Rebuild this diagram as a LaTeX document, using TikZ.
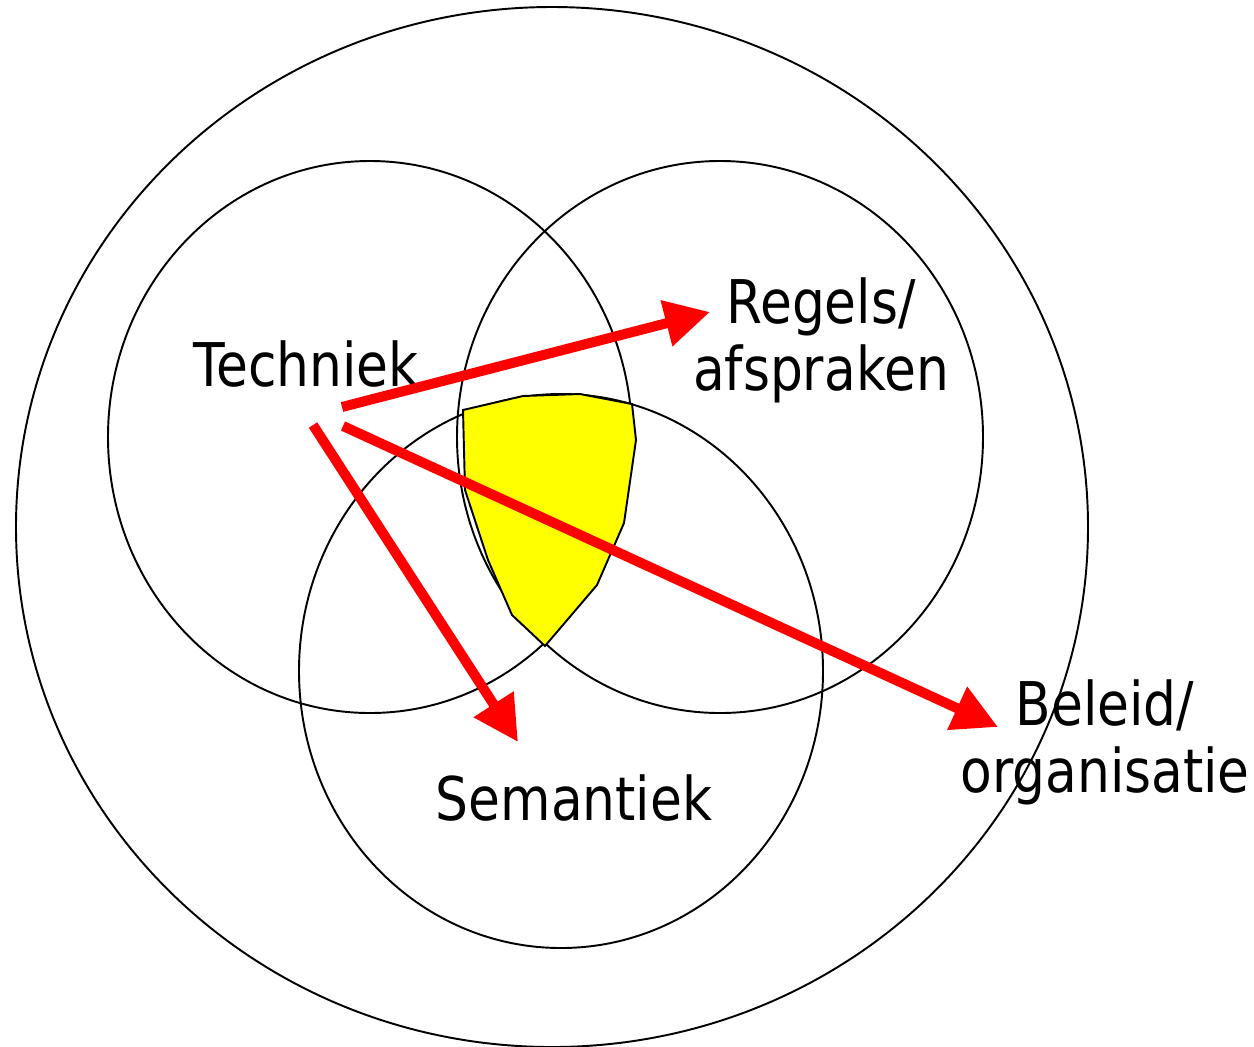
\documentclass[tikz,border=0pt]{standalone}
\usepackage{fontspec}
\setmainfont{DejaVu Sans}[FakeStretch=0.86]
\usetikzlibrary{arrows.meta,calc}
\definecolor{overlap}{RGB}{255,255,0}
\definecolor{pushred}{RGB}{255,0,0}

\begin{document}
\begin{tikzpicture}[x=0.02cm, y=-0.02cm]
	\path [use as bounding box] (0,0) rectangle (1254,1046);
	\tikzstyle{ring} = [draw, line width=1.1pt]
	\tikzstyle{label} = [font=\fontsize{34.3}{38.2}\selectfont, inner sep=0pt, align=center]
	\tikzstyle{push} = [draw=pushred, line width=0.2cm, -{Triangle[length=0.9cm, width=0.9cm]}]
	% the rings
	\draw[ring] (552,527) ellipse [x radius=536, y radius=520];
	\draw[ring] (370,437) ellipse [x radius=262, y radius=276];
	\draw[ring] (720,437) ellipse [x radius=263, y radius=276];
	\draw[ring] (561,671) ellipse [x radius=262, y radius=277];
	% the common part
	\draw[line width=1.1pt, fill=overlap] (463,410) -- (523,396) -- (580,394) -- (632,404) -- (636,440)
		-- (624,523) -- (597,585) -- (545,646) -- (512,615) -- (488,560) -- (465,490) -- cycle;
	% labels
	\node[label, anchor=base] (tech) at (306,386) {Techniek};
	\node[label] (regels) at (821,340) {Regels/\\afspraken};
	\node[label, anchor=base] (sem) at (574,820) {Semantiek};
	\node[label] (beleid) at (1105,742) {Beleid/\\organisatie};
	% arrows
	\coordinate (s1) at (342,407);
	\coordinate (s2) at (313,425);
	\coordinate (s3) at (343,426);
	\coordinate (t1) at (710,312);
	\coordinate (t2) at (518,742);
	\coordinate (t3) at (998,727);
	\draw[push] (s1) -- (t1);
	\draw[push] (s2) -- (t2);
	\draw[push] (s3) -- (t3);
\end{tikzpicture}
\end{document}
